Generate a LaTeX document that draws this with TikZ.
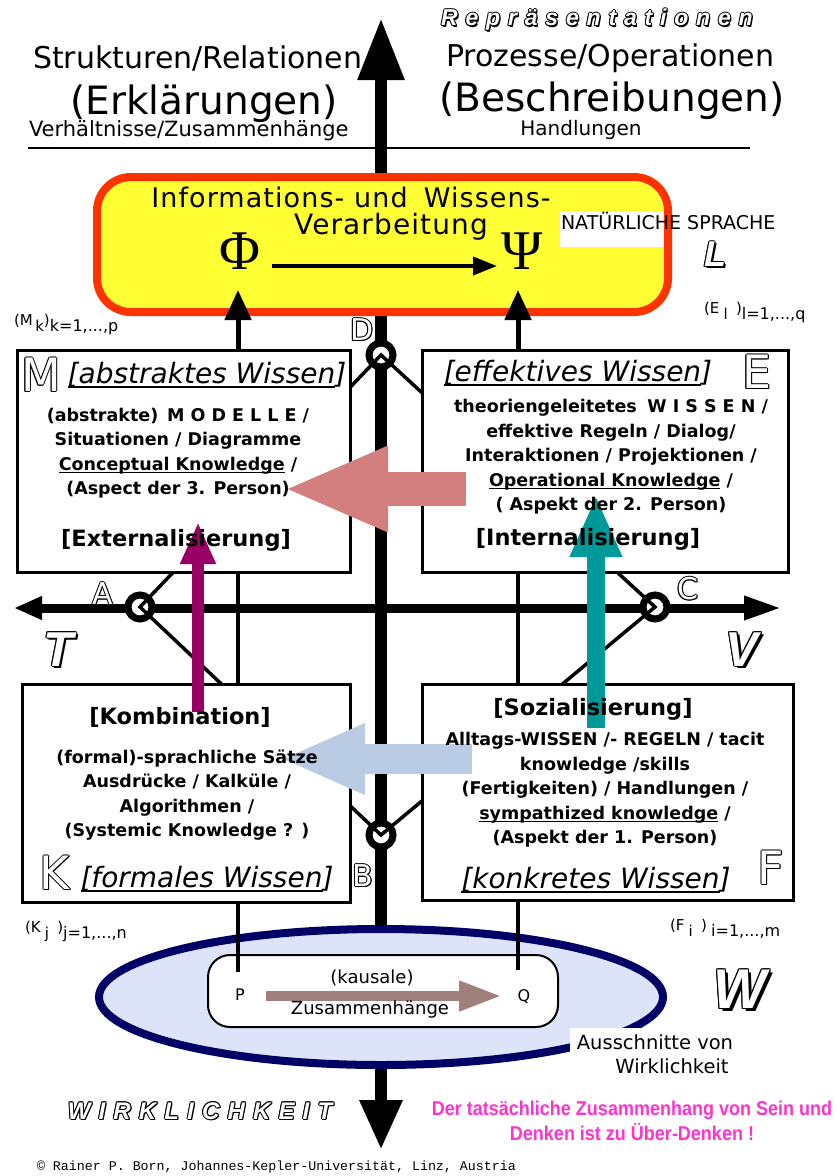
\documentclass[tikz,border=0pt]{standalone}
\usepackage{fontspec}
\usepackage{graphicx}
\usetikzlibrary{arrows.meta,shapes.geometric}
\setmainfont{DejaVu Sans}
\newfontfamily\hvfont{Liberation Sans}
\newfontfamily\hvspaced{Liberation Sans}[LetterSpace=34]
\newfontfamily\grkfont{Liberation Serif}
\newfontfamily\monofont{Liberation Mono}
\newfontfamily\wideface{DejaVu Sans}[LetterSpace=4]

\definecolor{framered}{HTML}{FF3300}
\definecolor{boxyellow}{HTML}{FFFF33}
\definecolor{navyline}{HTML}{000066}
\definecolor{realfill}{HTML}{DDE4FA}
\definecolor{rosearrow}{HTML}{D47F7F}
\definecolor{bluearrow}{HTML}{BACBE4}
\definecolor{plumarrow}{HTML}{990066}
\definecolor{tealarrow}{HTML}{009999}
\definecolor{causalarrow}{HTML}{A0807C}
\definecolor{notepink}{HTML}{FF33CC}

% white letters with a black outline and an optional drop shadow
\newsavebox\olblk
\newsavebox\olwht
\newcommand\olcp[2]{\rlap{\kern#1\raisebox{#2}{\usebox\olblk}}}
\newcommand\outl[2][0pt]{%
  \sbox\olblk{\color{black}#2}\sbox\olwht{\color{white}#2}%
  \ifdim#1>0pt\relax
    \olcp{#1}{-#1}\olcp{\dimexpr#1/2\relax}{\dimexpr-#1/2\relax}%
  \fi
  \olcp{1pt}{0pt}\olcp{-1pt}{0pt}\olcp{0pt}{1pt}\olcp{0pt}{-1pt}%
  \olcp{.7pt}{.7pt}\olcp{-.7pt}{.7pt}\olcp{.7pt}{-.7pt}\olcp{-.7pt}{-.7pt}%
  \usebox\olwht}

% underline drawn as a rule
\newlength\ulwd
\newcommand\ul[1]{\settowidth\ulwd{#1}\rlap{\rule[-0.16em]{\ulwd}{0.07em}}#1}

\begin{document}
\begin{tikzpicture}[x=1pt,y=-1pt,
  every node/.style={inner sep=0pt,outer sep=0pt},
  wbox/.style={draw=black,line width=3pt,fill=white},
  thinline/.style={line width=4pt},
  diag/.style={line width=3.5pt},
  ring/.style={circle,draw=black,line width=7pt,fill=white,minimum size=24pt},
  bodytxt/.style={align=center,font=\fontsize{17.5}{24.5}\selectfont\bfseries},
  heading/.style={font=\fontsize{28}{28}\selectfont\itshape},
  stage/.style={font=\fontsize{22.5}{22.5}\selectfont\bfseries},
  bigletter/.style={font=\fontsize{46}{46}\selectfont},
  pointletter/.style={font=\fontsize{30}{30}\selectfont},
  axisletter/.style={font=\hvfont\bfseries\itshape\fontsize{49}{49}\selectfont},
  idx/.style={anchor=west,font=\fontsize{15}{15}\selectfont},
]
\useasboundingbox (0,0) rectangle (837,1176);

% ---------- header ----------
\node[font=\hvspaced\bfseries\itshape\fontsize{23}{23}\selectfont] (rep) at (597,20) {\outl[1.2pt]{Repräsentationen}};
\node[anchor=west,font=\fontsize{30}{30}\selectfont] (struk) at (33,58) {Strukturen/Relationen};
\node[anchor=west,font=\fontsize{30}{30}\selectfont] (proz) at (446,58) {Prozesse/Operationen};
\node[font=\fontsize{39}{39}\selectfont] (erkl) at (204,104) {(Erklärungen)};
\node[font=\fontsize{39}{39}\selectfont] (beschr) at (612,101) {(Beschreibungen)};
\node[anchor=west,font=\fontsize{21}{21}\selectfont] (verh) at (29,131) {Verhältnisse/Zusammenhänge};
\node[font=\fontsize{20}{20}\selectfont] (handl) at (581,130) {Handlungen};

% ---------- axes ----------
\coordinate (hl) at (28,148);
\coordinate (hr) at (750,148);
\draw[line width=2pt] (hl) -- (hr);
\coordinate (Vt) at (381,18);
\coordinate (Vb) at (381,1150);
\draw[line width=12pt,{Triangle[length=50pt,width=40pt]}-{Triangle[length=62pt,width=44pt]}] (Vb) -- (Vt);
\coordinate (Tl) at (14,608);
\coordinate (Tr) at (782,608);
\draw[line width=9pt,{Triangle[length=28pt,width=22pt]}-{Triangle[length=38pt,width=22pt]}] (Tl) -- (Tr);

% ---------- reality ellipse ----------
\node[ellipse,draw=navyline,fill=realfill,line width=8pt,minimum width=564pt,minimum height=136pt] (Wl) at (381,997) {};
\node[fill=white,minimum width=182pt,minimum height=54pt] (wpatch) at (661,1055) {};
\node[draw=black,line width=2pt,fill=white,rounded corners=22pt,minimum width=350pt,minimum height=72pt] (PQ) at (383,991) {};

% ---------- D-A-B-C diamond ----------
\node[ring] (D) at (381,355) {};
\node[ring] (A) at (140,607) {};
\node[ring] (B) at (381,835) {};
\node[ring] (C) at (655,607) {};
\draw[diag] (D.center) -- (A.center) -- (B.center) -- (C.center) -- cycle;

% ---------- knowledge boxes ----------
\node[wbox,minimum width=333pt,minimum height=222pt] (Mbox) at (183.5,461) {};
\node[wbox,minimum width=366pt,minimum height=222pt] (Ebox) at (605,461) {};
\node[wbox,minimum width=328pt,minimum height=218pt] (Kbox) at (186,793) {};
\node[wbox,minimum width=371pt,minimum height=216pt] (Fbox) at (607.5,792) {};

% vertical links
\coordinate (Pend) at (238,972);
\coordinate (Qend) at (518,970);
\draw[thinline] (Mbox.south -| Pend) -- (Kbox.north -| Pend);
\draw[thinline] (Kbox.south -| Pend) -- (Pend);
\draw[thinline] (Ebox.south -| Qend) -- (Fbox.north -| Qend);
\draw[thinline] (Fbox.south -| Qend) -- (Qend);

% ---------- processing box ----------
\node[draw=framered,fill=boxyellow,line width=8pt,rounded corners=34pt,minimum width=571pt,minimum height=135pt] (Y) at (382.5,244.5) {};
\node[fill=white,minimum width=104pt,minimum height=36pt] (nspatch) at (612,229) {};
\coordinate (phiin) at (238,290);
\coordinate (psiin) at (518,290);
\draw[line width=5pt,-{Triangle[length=30pt,width=26pt]}] (Mbox.north -| phiin) -- (phiin);
\draw[line width=5pt,-{Triangle[length=30pt,width=26pt]}] (Ebox.north -| psiin) -- (psiin);

% ---------- transfer arrows ----------
\coordinate (roseT) at (466,489);
\coordinate (roseH) at (283,489);
\draw[line width=34pt,draw=rosearrow,-{Triangle[length=105pt,width=78pt]}] (roseT) -- (roseH);
\coordinate (blueT) at (472,759);
\coordinate (blueH) at (280,759);
\draw[line width=30pt,draw=bluearrow,-{Triangle[length=85pt,width=65pt]}] (blueT) -- (blueH);
\coordinate (plumT) at (198,712);
\coordinate (plumH) at (198,522);
\draw[line width=12pt,draw=plumarrow,-{Triangle[length=42pt,width=33pt]}] (plumT) -- (plumH);
\coordinate (tealT) at (596,728);
\coordinate (tealH) at (596,495);
\draw[line width=18pt,draw=tealarrow,-{Triangle[length=62pt,width=48pt]}] (tealT) -- (tealH);

% ---------- processing box text ----------
\node[font=\wideface\fontsize{27}{27}\selectfont] (info) at (351,197) {Informations- und\hspace{0.6em}Wissens-};
\node[font=\wideface\fontsize{28}{28}\selectfont] (verarb) at (391,227) {Verarbeitung};
\node[font=\grkfont\fontsize{56}{56}\selectfont] (Phi) at (240,251) {Φ};
\node[font=\grkfont\fontsize{56}{56}\selectfont] (Psi) at (522,251) {Ψ};
\coordinate (phiR) at (272,266);
\coordinate (psiL) at (497,266);
\draw[line width=4pt,-{Triangle[length=24pt,width=18pt]}] (phiR) -- (psiL);
\node[anchor=west,font=\fontsize{19}{19}\selectfont] (nat) at (561,221) {NATÜRLICHE SPRACHE};
\node[font=\hvfont\bfseries\itshape\fontsize{36}{36}\selectfont] (Lang) at (715,255) {\outl[2pt]{L}};
\node[idx] (El) at (704,312) {(E\raisebox{-6pt}{\;l}\;\;)\raisebox{-6pt}{\fontsize{16}{16}\selectfont l=1,...,q}};
\node[idx] (Mk) at (14,324) {(M\raisebox{-6pt}{\,k})\raisebox{-6pt}{\fontsize{16}{16}\selectfont k=1,...,p}};

% ---------- M box ----------
\node[bigletter] (Mlet) at (41,375) {\outl{M}};
\node[heading] (Mhead) at (207,375) {\ul{[abstraktes Wissen}]};
\node[bodytxt] (Mtxt) at (178,453) {(abstrakte)\hspace{0.5em}M O D E L L E /\\Situationen / Diagramme\\\ul{Conceptual Knowledge} /\\(Aspect der 3. Person)};
\node[stage] (Mstage) at (176,540) {[Externalisierung]};

% ---------- E box ----------
\node[heading] (Ehead) at (578,373) {\ul{[effektives Wissen}]};
\node[bigletter] (Elet) at (757,372) {\outl{E}};
\node[bodytxt] (Etxt) at (611,457) {theoriengeleitetes\hspace{0.6em}W I S S E N /\\effektive Regeln / Dialog/\\Interaktionen / Projektionen /\\\ul{Operational Knowledge} /\\( Aspekt der 2. Person)};
\node[stage] (Estage) at (588,539) {[Internalisierung]};

% ---------- K box ----------
\node[stage] (Kstage) at (180,717) {[Kombination]};
\node[bodytxt] (Ktxt) at (187,795) {(formal)-sprachliche Sätze\\Ausdrücke / Kalküle /\\Algorithmen /\\(Systemic Knowledge ? )};
\node[bigletter] (Klet) at (55,873) {\outl{K}};
\node[heading] (Khead) at (207,879) {\ul{[formales Wissen}]};

% ---------- F box ----------
\node[stage] (Fstage) at (593,709) {[Sozialisierung]};
\node[bodytxt] (Ftxt) at (605,790) {Alltags-WISSEN /- REGELN / tacit\\knowledge /skills\\(Fertigkeiten) / Handlungen /\\\ul{sympathized knowledge} /\\(Aspekt der 1. Person)};
\node[heading] (Fhead) at (596,880) {\ul{[konkretes Wissen}]};
\node[bigletter] (Flet) at (771,868) {\outl{F}};

% ---------- point and axis labels ----------
\node[pointletter] (Dlab) at (362,330) {\outl{D}};
\node[pointletter] (Blab) at (363,876) {\outl{B}};
\node[pointletter] (Alab) at (103,594) {\outl{A}};
\node[pointletter] (Clab) at (688,589) {\outl{C}};
\node[axisletter] (Tlab) at (58,650) {\outl[2.5pt]{T}};
\node[axisletter] (Vlab) at (742,650) {\outl[2.5pt]{V}};
\node[idx] (Kj) at (25,931) {(K\raisebox{-6pt}{\;j}\;\;)\raisebox{-6pt}{\fontsize{16}{16}\selectfont j=1,...,n}};
\node[idx] (Fi) at (670,929) {(F\raisebox{-6pt}{\;i}\;\;)\;\raisebox{-6pt}{\fontsize{16}{16}\selectfont i=1,...,m}};

% ---------- reality ----------
\node[font=\fontsize{16}{16}\selectfont] (P) at (240,995) {P};
\node[font=\fontsize{16}{16}\selectfont] (Q) at (524,997) {Q};
\coordinate (causeT) at (266,996);
\coordinate (causeH) at (502,996);
\draw[line width=10pt,draw=causalarrow,-{Triangle[length=43pt,width=28pt]}] (causeT) -- (causeH);
\node[font=\fontsize{18}{18}\selectfont] (kaus) at (372,978) {(kausale)};
\node[font=\fontsize{18}{18}\selectfont] (zus) at (370,1010) {Zusammenhänge};
\node[font=\hvfont\bfseries\itshape\fontsize{56}{56}\selectfont] (Wlab) at (740,990) {\outl[2.5pt]{W}};
\node[font=\fontsize{19.5}{19.5}\selectfont] (aus1) at (655,1042) {Ausschnitte von};
\node[font=\fontsize{19.5}{19.5}\selectfont] (aus2) at (672,1066) {Wirklichkeit};
\node[font=\hvspaced\bfseries\itshape\fontsize{24}{24}\selectfont] (wirk) at (200,1111) {\outl[1.2pt]{WIRKLICHKEIT}};
\node[font=\hvfont\bfseries\fontsize{20}{20}\selectfont,text=notepink] (note1) at (632,1110) {\scalebox{0.9}[1]{Der tatsächliche Zusammenhang von Sein und}};
\node[font=\hvfont\bfseries\fontsize{20}{20}\selectfont,text=notepink] (note2) at (632,1132) {\scalebox{0.9}[1]{Denken ist zu Über-Denken !}};
\node[anchor=west,font=\monofont\fontsize{13.3}{13.3}\selectfont] (copy) at (37,1167) {© Rainer P. Born, Johannes-Kepler-Universität, Linz, Austria};
\end{tikzpicture}
\end{document}
